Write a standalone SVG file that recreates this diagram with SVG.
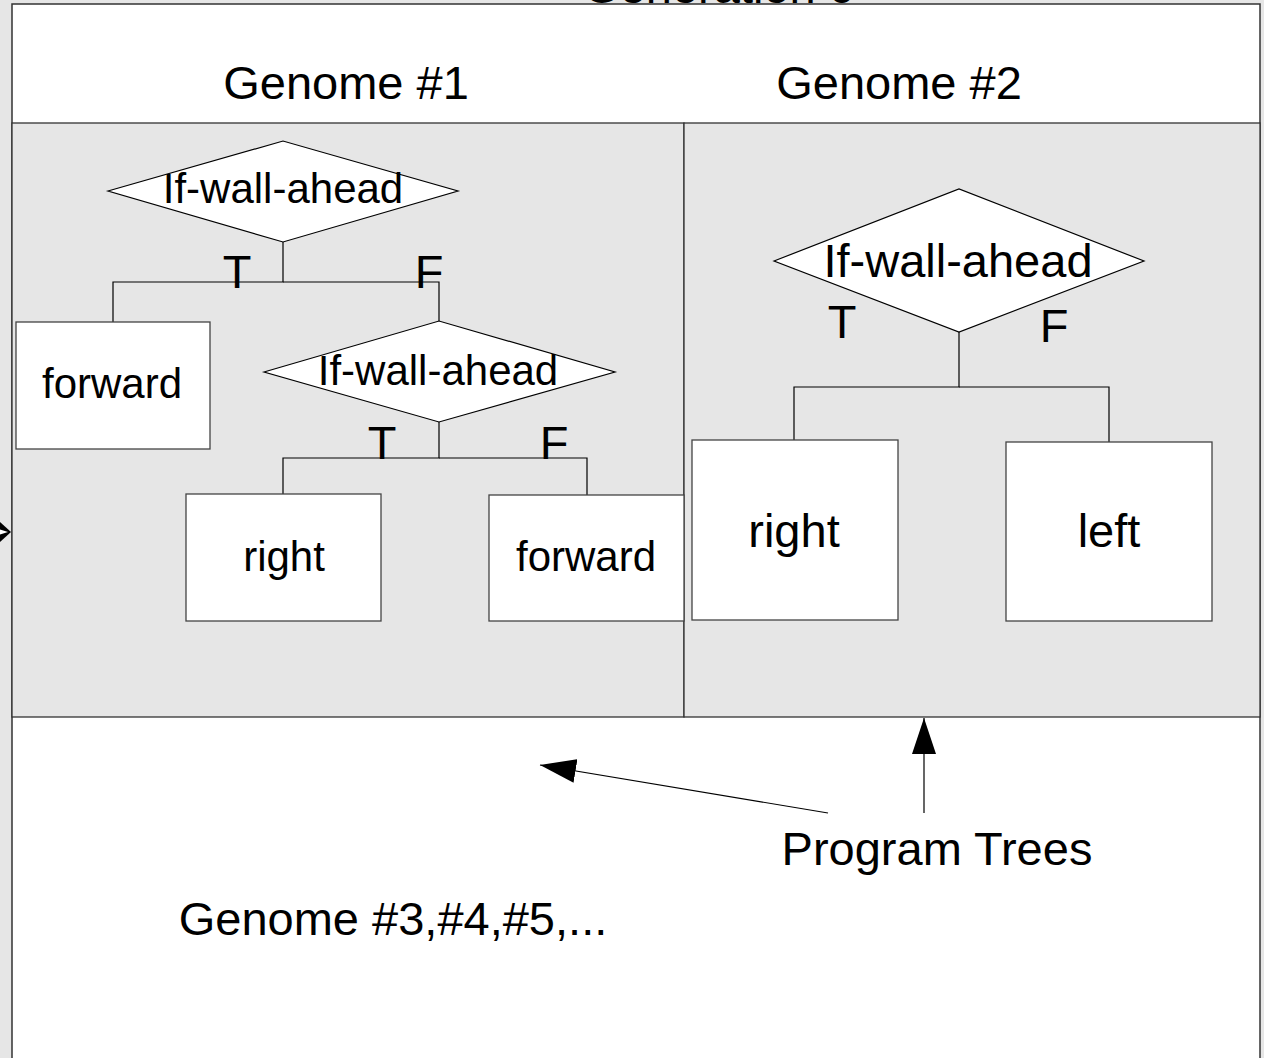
<svg xmlns="http://www.w3.org/2000/svg" width="1264" height="1058" viewBox="0 0 1264 1058">
  <defs>
    <style>
      text { font-family: "Liberation Sans", Arial, sans-serif; fill: #000; text-anchor: middle; }
      .big { font-size: 47px; }
      .mid { font-size: 42px; }
      .panel { fill: #e6e6e6; stroke: #333; stroke-width: 1.3; }
      .box { fill: #fff; stroke: #444; stroke-width: 1.3; }
      .dia { fill: #fff; stroke: #000; stroke-width: 1.2; }
      .wire { fill: none; stroke: #000; stroke-width: 1.2; }
    </style>
    <marker id="head" viewBox="0 0 36 24" refX="36" refY="12" markerWidth="36" markerHeight="24" markerUnits="userSpaceOnUse" orient="auto">
      <path d="M0,0 L36,12 L0,24 Z" fill="#000"/>
    </marker>
  </defs>

  <!-- page background -->
  <rect x="0" y="0" width="1264" height="1058" fill="#e6e6e6"/>

  <!-- generation frame -->
  <g id="generation">
    <text class="big" x="719" y="3">Generation 0</text>
    <rect x="12" y="4" width="1248" height="1070" fill="#fff" stroke="#333" stroke-width="1.5"/>
    <text class="big" x="346" y="99">Genome #1</text>
    <text class="big" x="899" y="99">Genome #2</text>
    <text class="big" x="393" y="935">Genome #3,#4,#5,...</text>
  </g>

  <!-- incoming arrow at the left edge -->
  <g id="left-arrow">
    <polygon points="-12,511 11,532 -12,553" fill="#000"/>
    <polygon points="0,529.5 8,532 0,534.5" fill="#fff"/>
  </g>

  <!-- genome panels -->
  <g id="panel-1">
    <rect class="panel" x="12" y="123" width="672" height="594"/>
  </g>
  <g id="panel-2">
    <rect class="panel" x="684" y="123" width="576" height="594"/>
  </g>

  <!-- tree connectors -->
  <g id="connectors">
    <polyline class="wire" points="283,242 283,282 113,282 113,322"/>
    <polyline class="wire" points="283,282 439,282 439,321"/>
    <polyline class="wire" points="439,422 439,458 283,458 283,494"/>
    <polyline class="wire" points="439,458 587,458 587,495"/>
    <polyline class="wire" points="959,332 959,387 794,387 794,440"/>
    <polyline class="wire" points="959,387 1109,387 1109,442"/>
  </g>

  <!-- genome #1 tree -->
  <g id="g1-if">
    <polygon class="dia" points="108,191 283,141 458,191 283,242"/>
    <text class="mid" x="283" y="203">If-wall-ahead</text>
    <text class="big" x="237" y="288">T</text>
    <text class="big" x="429" y="288">F</text>
  </g>
  <g id="g1-forward">
    <rect class="box" x="16" y="322" width="194" height="127"/>
    <text class="mid" x="112" y="398">forward</text>
  </g>
  <g id="g1-if2">
    <polygon class="dia" points="264,372 439,321 615,372 439,422"/>
    <text class="mid" x="438" y="385">If-wall-ahead</text>
    <text class="big" x="382" y="459">T</text>
    <text class="big" x="554" y="459">F</text>
  </g>
  <g id="g1-right">
    <rect class="box" x="186" y="494" width="195" height="127"/>
    <text class="mid" x="284" y="571">right</text>
  </g>
  <g id="g1-forward2">
    <rect class="box" x="489" y="495" width="195" height="126"/>
    <text class="mid" x="586" y="571">forward</text>
  </g>

  <!-- genome #2 tree -->
  <g id="g2-if">
    <polygon class="dia" points="774,261 959,189 1144,261 959,332"/>
    <text class="big" x="958" y="277">If-wall-ahead</text>
    <text class="big" x="842" y="338">T</text>
    <text class="big" x="1054" y="342">F</text>
  </g>
  <g id="g2-right">
    <rect class="box" x="692" y="440" width="206" height="180"/>
    <text class="big" x="794" y="547">right</text>
  </g>
  <g id="g2-left">
    <rect class="box" x="1006" y="442" width="206" height="179"/>
    <text class="big" x="1109" y="547">left</text>
  </g>

  <!-- callout -->
  <g id="callout">
    <line class="wire" x1="924" y1="813" x2="924" y2="718" marker-end="url(#head)"/>
    <line class="wire" x1="828" y1="813" x2="540" y2="765" marker-end="url(#head)"/>
    <text class="big" x="937" y="865">Program Trees</text>
  </g>
</svg>
